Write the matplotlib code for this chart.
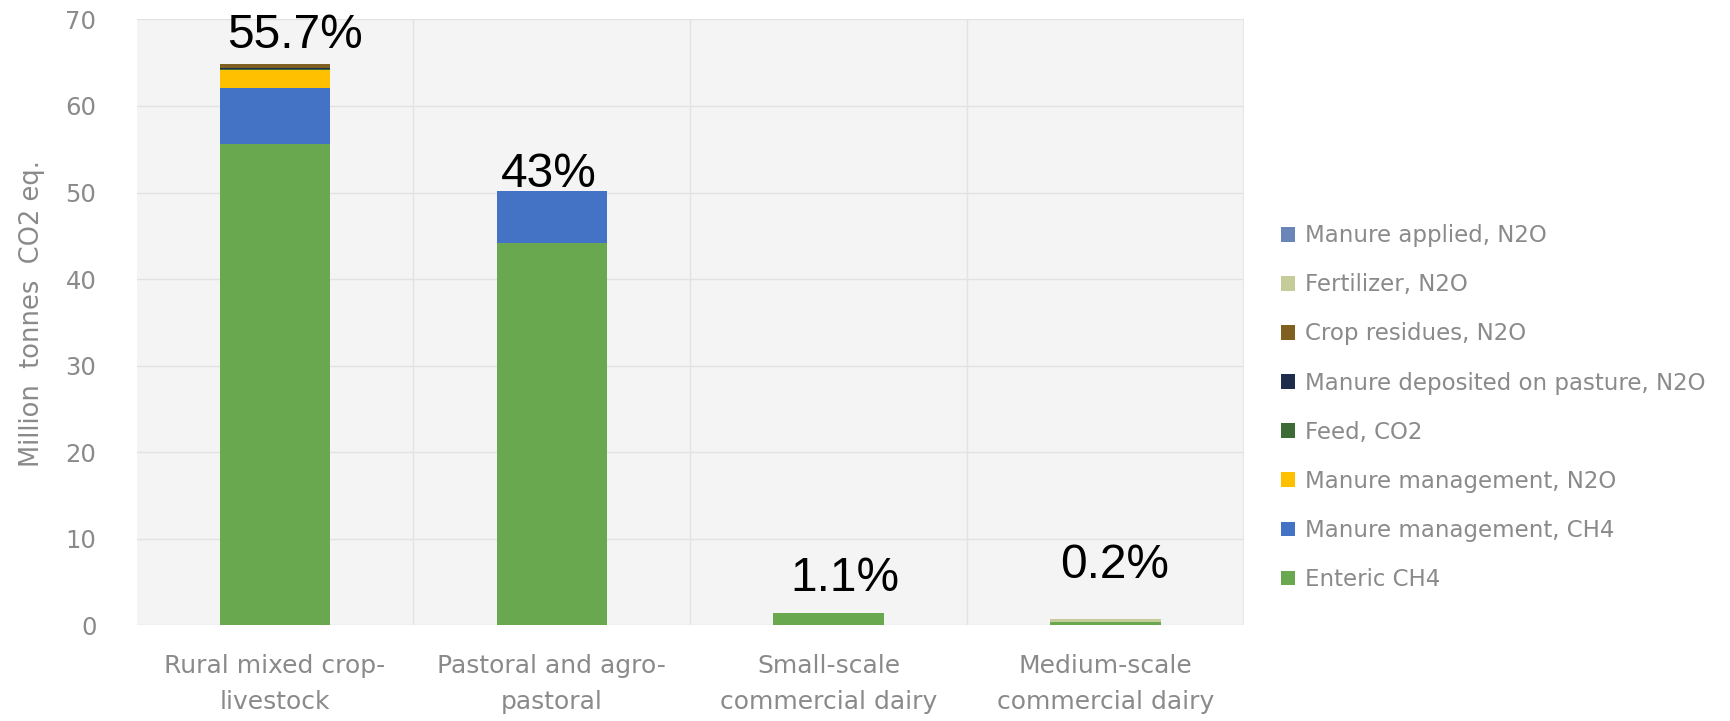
import numpy as np
import matplotlib
matplotlib.use('Agg')
import matplotlib.pyplot as plt

categories = ['Rural mixed crop-\nlivestock', 'Pastoral and agro-\npastoral',
              'Small-scale\ncommercial dairy', 'Medium-scale\ncommercial dairy']

# stacked from bottom to top
sources = ['Enteric CH4', 'Manure management, CH4', 'Manure management, N2O',
           'Feed, CO2', 'Manure deposited on pasture, N2O', 'Crop residues, N2O',
           'Fertilizer, N2O', 'Manure applied, N2O']
enteric = [55.6, 44.2, 1.4, 0.35]
manure_ch4 = [6.5, 6.0, 0.0, 0.0]
manure_n2o = [2.1, 0.0, 0.0, 0.0]
feed = [0.1, 0.0, 0.0, 0.0]
deposited = [0.1, 0.0, 0.0, 0.0]
crop_res = [0.4, 0.0, 0.0, 0.0]
fertilizer = [0.05, 0.0, 0.0, 0.35]
applied = [0.05, 0.0, 0.0, 0.0]
shares = ['55.7%', '43%', '1.1%', '0.2%']

colors = ['#6aa84f', '#4472c4', '#ffc000', '#3d6b35', '#1f2d4d', '#7f6020',
          '#c5cc9a', '#6a86b8']
label_offsets = [(14, 20), (-2, 12), (12, 24.5), (7, 38.5)]  # in points

plt.rcParams['font.family'] = ['DejaVu Sans']
grey = '#8a8a8a'

fig = plt.figure(figsize=(17.31, 7.21), dpi=100)
ax = fig.add_axes([0.079, 0.133, 0.6395, 0.84])
ax.set_facecolor('#f4f4f4')

x = np.arange(len(categories))
series = [enteric, manure_ch4, manure_n2o, feed, deposited, crop_res, fertilizer, applied]
bottom = np.zeros(len(categories))
for name, vals, col in zip(sources, series, colors):
    ax.bar(x, vals, 0.4, bottom=bottom, color=col, label=name, zorder=3)
    bottom += np.array(vals)

for i, s in enumerate(shares):
    ax.annotate(s, (x[i], bottom[i]), xytext=label_offsets[i], textcoords='offset points',
                ha='center', va='center', fontsize=34.5, family='Liberation Sans', color='black')

ax.set_xlim(-0.5, 3.5)
ax.set_ylim(0, 70)
ax.set_yticks(range(0, 71, 10))
ax.set_xticks(x)
ax.set_xticklabels(categories, fontsize=18, color=grey, linespacing=1.6)
ax.tick_params(axis='y', labelsize=17.5, labelcolor=grey, length=0, pad=29)
ax.tick_params(axis='x', length=0, pad=21)
ax.grid(axis='y', color='#e2e2e2', linewidth=1, zorder=0)
for b in [0.5, 1.5, 2.5]:
    ax.axvline(b, color='#e2e2e2', linewidth=1, zorder=0)
for sp in ax.spines.values():
    sp.set_visible(False)
ax.axvline(3.5, color='#e6e6e6', linewidth=1.5)

ax.set_ylabel('Million  tonnes  CO2 eq.', fontsize=18.5, color=grey)
ax.yaxis.set_label_coords(-0.083, 0.514)

h, l = ax.get_legend_handles_labels()
leg = ax.legend(h[::-1], l[::-1], loc='center left', bbox_to_anchor=(1.015, 0.359),
                frameon=False, fontsize=16.5, handlelength=0.62, handleheight=0.62,
                handletextpad=0.42, labelspacing=1.14)
for t in leg.get_texts():
    t.set_color(grey)

fig.savefig('out.png', dpi=100, facecolor='white')
